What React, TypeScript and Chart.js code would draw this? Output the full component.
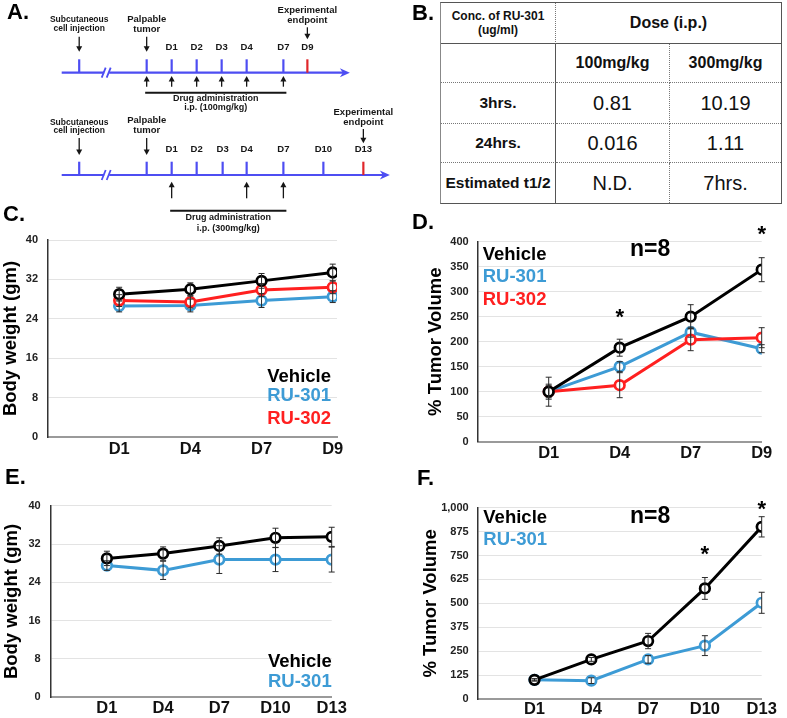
import React, { useEffect, useRef } from "react";
import { Chart, registerables } from "chart.js";

Chart.register(...registerables);

const FONT = '"Liberation Sans", Arial, Helvetica, sans-serif';
Chart.defaults.font.family = FONT;

// ---------------- Panel A (schedule diagram) ----------------
const injectionLabel = ["Subcutaneous", "cell injection"];
const tumorLabel = ["Palpable", "tumor"];
const endpointLabel = ["Experimental", "endpoint"];
const drugLabel = "Drug administration";
const schedule1Days = ["D1", "D2", "D3", "D4", "D7", "D9"];
const schedule1Slots = [1, 2, 3, 4, 5.47, 6.43];
const schedule1Doses = [0, 1, 2, 3, 4, 5.47];
const schedule1Route = "i.p. (100mg/kg)";
const schedule2Days = ["D1", "D2", "D3", "D4", "D7", "D10", "D13"];
const schedule2Slots = [1, 2, 3.04, 4, 5.47, 7.07, 8.67];
const schedule2Doses = [1, 4, 5.47];
const schedule2Route = "i.p. (300mg/kg)";
const injectionSlot = -2.7;
const tumorSlot = 0;
const breakSlot = -1.6;
const lineStartSlot = -3.4;
const schedule1EndSlot = 8.13;
const schedule2EndSlot = 9.73;

// ---------------- Panel B (table) ----------------
const tableCornerTitle = ["Conc. of RU-301", "(ug/ml)"];
const tableDoseTitle = "Dose (i.p.)";
const doseLabels = ["100mg/kg", "300mg/kg"];
const timeLabels = ["3hrs.", "24hrs.", "Estimated t1/2"];
const conc100 = ["0.81", "0.016", "N.D."];
const conc300 = ["10.19", "1.11", "7hrs."];

// ---------------- Panel C ----------------
const daysShort = ["D1", "D4", "D7", "D9"];
const weightVehicleC = [29.0, 30.0, 31.7, 33.4];
const weightVehicleCErr = [1.4, 1.3, 1.5, 1.7];
const weightRU301C = [26.6, 26.7, 27.7, 28.5];
const weightRU301CErr = [1.2, 1.3, 1.4, 1.2];
const weightRU302C = [27.7, 27.4, 29.85, 30.4];
const weightRU302CErr = [1.2, 1.2, 1.3, 1.3];

// ---------------- Panel D ----------------
const tumorVehicleD = [100, 188, 250, 344];
const tumorVehicleDErr = [29, 17, 24, 24];
const tumorRU301D = [100, 150, 219, 186];
const tumorRU301DErr = [15, 10, 10, 8];
const tumorRU302D = [100, 113, 204, 208];
const tumorRU302DErr = [12, 25, 22, 20];
const starCatsD = ["D4", "D9"];
const starValuesD = [260, 427];

// ---------------- Panel E ----------------
const daysLong = ["D1", "D4", "D7", "D10", "D13"];
const weightVehicleE = [29.0, 30.0, 31.6, 33.3, 33.5];
const weightVehicleEErr = [1.5, 1.4, 1.7, 2.0, 2.0];
const weightRU301E = [27.5, 26.5, 28.75, 28.75, 28.75];
const weightRU301EErr = [1.0, 1.9, 2.9, 2.5, 2.6];

// ---------------- Panel F ----------------
const tumorVehicleF = [100, 207, 303, 578, 900];
const tumorVehicleFErr = [5, 10, 40, 57, 53];
const tumorRU301F = [100, 96, 207, 279, 503];
const tumorRU301FErr = [6, 15, 20, 52, 55];
const starCatsF = ["D10", "D13"];
const starValuesF = [788, 1023];

const groupSize = "n=8";
const weightTitle = "Body weight (gm)";
const tumorTitle = "% Tumor Volume";

const BLACK = "#000000";
const BLUE = "#3d9bd5";
const RED = "#ff2020";
const TL_BLUE = "#4d4df2";
const TL_RED = "#e0262a";
const INK = "#161616";

// ======================================================================
// Panel A
// ======================================================================
const timelineLayouts = [
  {
    lineY: 72.7, tickTop: 59.3, dayY: 47.3,
    injText: [19.3, 28.3], tumText: [19, 29.3], downArrow: [36.7, 51.7],
    endText: [10, 20], endArrow: [27.3, 39.3],
    doseArrow: [86.7, 76], barY: 92.7, barText: [98.7, 107.3],
  },
  {
    lineY: 175, tickTop: 161.7, dayY: 149.3,
    injText: [122.7, 131], tumText: [120, 130.7], downArrow: [138, 155],
    endText: [112.3, 122.7], endArrow: [129, 143.3],
    doseArrow: [198.3, 181.7], barY: 210.7, barText: [217.7, 228.3],
  },
];

function drawArrow(ctx: CanvasRenderingContext2D, x: number, yFrom: number, yTo: number) {
  const dir = yTo > yFrom ? 1 : -1;
  ctx.beginPath();
  ctx.moveTo(x, yFrom);
  ctx.lineTo(x, yTo - dir * 4);
  ctx.stroke();
  ctx.beginPath();
  ctx.moveTo(x, yTo);
  ctx.lineTo(x - 3, yTo - dir * 5.5);
  ctx.lineTo(x + 3, yTo - dir * 5.5);
  ctx.closePath();
  ctx.fill();
}

function TimelinePanel() {
  const ref = useRef<HTMLCanvasElement>(null);
  useEffect(() => {
    const schedules = [
      { days: schedule1Days, slots: schedule1Slots, doses: schedule1Doses, route: schedule1Route, end: schedule1EndSlot },
      { days: schedule2Days, slots: schedule2Slots, doses: schedule2Doses, route: schedule2Route, end: schedule2EndSlot },
    ];
    const plugin = {
      id: "timeline",
      afterDraw(chart: any) {
        const ctx: CanvasRenderingContext2D = chart.ctx;
        const X = (v: number) => chart.scales.x.getPixelForValue(v);
        const Y = (v: number) => chart.scales.y.getPixelForValue(v);
        ctx.save();
        schedules.forEach((s, k) => {
          const L = timelineLayouts[k];
          const ly = Y(L.lineY);
          ctx.strokeStyle = TL_BLUE;
          ctx.fillStyle = TL_BLUE;
          ctx.lineWidth = 2.2;
          const tip = X(s.end);
          ctx.beginPath();
          ctx.moveTo(X(lineStartSlot), ly);
          ctx.lineTo(tip - 5, ly);
          ctx.stroke();
          ctx.beginPath();
          ctx.moveTo(tip, ly);
          ctx.lineTo(tip - 10, ly - 4.5);
          ctx.lineTo(tip - 7, ly);
          ctx.lineTo(tip - 10, ly + 4.5);
          ctx.closePath();
          ctx.fill();
          const bx = X(breakSlot);
          ctx.fillStyle = "#ffffff";
          ctx.fillRect(bx - 2.5, ly - 2, 5, 4);
          ctx.lineWidth = 1.8;
          ctx.beginPath();
          ctx.moveTo(bx - 5, ly + 5);
          ctx.lineTo(bx - 1, ly - 5);
          ctx.moveTo(bx, ly + 5);
          ctx.lineTo(bx + 4, ly - 5);
          ctx.stroke();
          ctx.lineWidth = 2.2;
          const tickSlots = [injectionSlot, tumorSlot, ...s.slots];
          tickSlots.forEach((sl, i) => {
            ctx.strokeStyle = i === tickSlots.length - 1 ? TL_RED : TL_BLUE;
            ctx.beginPath();
            ctx.moveTo(X(sl), Y(L.tickTop));
            ctx.lineTo(X(sl), ly);
            ctx.stroke();
          });
          ctx.fillStyle = INK;
          ctx.textAlign = "center";
          ctx.textBaseline = "middle";
          ctx.font = `bold 9.5px ${FONT}`;
          s.days.forEach((d, i) => ctx.fillText(d, X(s.slots[i]), Y(L.dayY)));
          ctx.font = `bold 8.5px ${FONT}`;
          injectionLabel.forEach((t, i) => ctx.fillText(t, X(injectionSlot), Y(L.injText[i])));
          ctx.font = `bold 9.5px ${FONT}`;
          tumorLabel.forEach((t, i) => ctx.fillText(t, X(tumorSlot), Y(L.tumText[i])));
          const endX = X(s.slots[s.slots.length - 1]);
          endpointLabel.forEach((t, i) => ctx.fillText(t, endX, Y(L.endText[i])));
          ctx.strokeStyle = INK;
          ctx.fillStyle = INK;
          ctx.lineWidth = 1.3;
          drawArrow(ctx, X(injectionSlot), Y(L.downArrow[0]), Y(L.downArrow[1]));
          drawArrow(ctx, X(tumorSlot), Y(L.downArrow[0]), Y(L.downArrow[1]));
          drawArrow(ctx, endX, Y(L.endArrow[0]), Y(L.endArrow[1]));
          s.doses.forEach((sl) => drawArrow(ctx, X(sl), Y(L.doseArrow[0]), Y(L.doseArrow[1])));
          const bx0 = X(s.doses[0]) - 1.5;
          const bx1 = X(s.doses[s.doses.length - 1]) + 3;
          ctx.lineWidth = 2;
          ctx.beginPath();
          ctx.moveTo(bx0, Y(L.barY));
          ctx.lineTo(bx1, Y(L.barY));
          ctx.stroke();
          ctx.font = `bold 9px ${FONT}`;
          const cx = (bx0 + bx1) / 2;
          ctx.fillText(drugLabel, cx, Y(L.barText[0]));
          ctx.fillText(s.route, cx, Y(L.barText[1]));
        });
        ctx.restore();
      },
    };
    const chart = new Chart(ref.current as HTMLCanvasElement, {
      type: "scatter",
      data: { datasets: [] },
      options: {
        animation: false,
        responsive: false,
        devicePixelRatio: 1,
        layout: { padding: { left: 61.7, right: 8.4, top: 0, bottom: 0 } },
        plugins: { legend: { display: false }, tooltip: { enabled: false } },
        scales: {
          x: { type: "linear", min: -3.4, max: 9.8, display: false },
          y: { type: "linear", min: 0, max: 236, reverse: true, display: false },
        },
      },
      plugins: [plugin],
    } as any);
    return () => chart.destroy();
  }, []);
  return <canvas ref={ref} width={400} height={236} style={{ position: "absolute", left: 0, top: 0 }} />;
}

// ======================================================================
// Panel B
// ======================================================================
function TablePanel() {
  const solid = "1px solid #555";
  const dotted = "1px dotted #777";
  const cell = (extra: React.CSSProperties): React.CSSProperties => ({
    display: "flex",
    alignItems: "center",
    justifyContent: "center",
    textAlign: "center",
    boxSizing: "border-box",
    color: "#111",
    ...extra,
  });
  const boldLabel: React.CSSProperties = { fontWeight: "bold", fontSize: 15.5 };
  const value: React.CSSProperties = { fontSize: 20 };
  return (
    <div
      style={{
        position: "absolute",
        left: 440,
        top: 2,
        width: 340,
        height: 200,
        border: solid,
        borderLeft: "1.5px solid #888",
        display: "grid",
        gridTemplateColumns: "115px 114px 111px",
        gridTemplateRows: "41px 39px 41px 39px 40px",
        fontFamily: FONT,
      }}
    >
      <div style={cell({ borderRight: dotted, borderBottom: solid, flexDirection: "column", fontWeight: "bold", fontSize: 12, lineHeight: "14px" })}>
        <div>{tableCornerTitle[0]}</div>
        <div>{tableCornerTitle[1]}</div>
      </div>
      <div style={cell({ gridColumn: "2 / 4", borderBottom: solid, fontWeight: "bold", fontSize: 16 })}>{tableDoseTitle}</div>
      <div style={cell({ borderRight: solid, borderBottom: dotted })}></div>
      <div style={cell({ borderRight: dotted, borderBottom: dotted, fontWeight: "bold", fontSize: 16 })}>{doseLabels[0]}</div>
      <div style={cell({ borderBottom: dotted, fontWeight: "bold", fontSize: 16 })}>{doseLabels[1]}</div>
      {timeLabels.map((t, i) => {
        const bottom = i < timeLabels.length - 1 ? dotted : "none";
        return (
          <React.Fragment key={t}>
            <div style={cell({ borderRight: solid, borderBottom: bottom, ...boldLabel })}>{t}</div>
            <div style={cell({ borderRight: dotted, borderBottom: bottom, ...value })}>{conc100[i]}</div>
            <div style={cell({ borderBottom: bottom, ...value })}>{conc300[i]}</div>
          </React.Fragment>
        );
      })}
    </div>
  );
}

// ======================================================================
// Panels C-F
// ======================================================================
type Series = { label: string; color: string; values: number[]; errors: number[]; layer: number };
type PanelSpec = {
  left: number; top: number; width: number; height: number;
  cats: string[]; series: Series[];
  yMax: number; yStep: number; xMax: number; yTitle: string;
  yAxisWidth: number; xAxisHeight: number; padTop: number; padRight: number;
  yTickPad: number; xTickPad: number;
  legendAlign: "left" | "right"; legendDx: number; legendFromBottom: boolean; legendOffsets: number[];
  note?: string; noteFx?: number; noteFy?: number;
  starCats?: string[]; starValues?: number[];
};

function LinePanel({ spec }: { spec: PanelSpec }) {
  const ref = useRef<HTMLCanvasElement>(null);
  useEffect(() => {
    const s = spec;
    const errorBars = {
      id: "errorBars",
      afterDatasetsDraw(chart: any) {
        const ctx: CanvasRenderingContext2D = chart.ctx;
        const xs = chart.scales.x;
        const ys = chart.scales.y;
        ctx.save();
        ctx.strokeStyle = "#2a2a2a";
        ctx.lineWidth = 1;
        chart.data.datasets.forEach((ds: any) => {
          ds.data.forEach((p: any, i: number) => {
            const e = ds.errors[i];
            const x = xs.getPixelForValue(p.x);
            const y0 = ys.getPixelForValue(p.y + e);
            const y1 = ys.getPixelForValue(p.y - e);
            ctx.beginPath();
            ctx.moveTo(x, y0);
            ctx.lineTo(x, y1);
            ctx.moveTo(x - 3, y0);
            ctx.lineTo(x + 3, y0);
            ctx.moveTo(x - 3, y1);
            ctx.lineTo(x + 3, y1);
            ctx.stroke();
          });
        });
        ctx.restore();
      },
    };
    const overlay = {
      id: "overlayText",
      afterDraw(chart: any) {
        const ctx: CanvasRenderingContext2D = chart.ctx;
        const a = chart.chartArea;
        ctx.save();
        ctx.font = `bold 18.5px ${FONT}`;
        ctx.textBaseline = "middle";
        ctx.textAlign = s.legendAlign;
        const lx = s.legendAlign === "left" ? a.left + s.legendDx : a.right + s.legendDx;
        s.series.forEach((ser, i) => {
          const y = s.legendFromBottom ? a.bottom - s.legendOffsets[i] : a.top + s.legendOffsets[i];
          ctx.fillStyle = ser.color;
          ctx.fillText(ser.label, lx, y);
        });
        if (s.note) {
          ctx.fillStyle = BLACK;
          ctx.textAlign = "center";
          ctx.font = `bold 23px ${FONT}`;
          ctx.fillText(s.note, a.left + (a.right - a.left) * (s.noteFx || 0), a.top + (a.bottom - a.top) * (s.noteFy || 0));
        }
        if (s.starCats && s.starValues) {
          ctx.fillStyle = BLACK;
          ctx.textAlign = "center";
          ctx.textBaseline = "alphabetic";
          ctx.font = `bold 22px ${FONT}`;
          s.starCats.forEach((c, i) => {
            const x = chart.scales.x.getPixelForValue(s.cats.indexOf(c) + 1);
            const y = chart.scales.y.getPixelForValue((s.starValues as number[])[i]);
            ctx.fillText("*", x, y + 12.5);
          });
        }
        ctx.restore();
      },
    };
    const chart = new Chart(ref.current as HTMLCanvasElement, {
      type: "line",
      data: {
        datasets: s.series.map((ser) => ({
          label: ser.label,
          data: ser.values.map((v, i) => ({ x: i + 1, y: v })),
          errors: ser.errors,
          borderColor: ser.color,
          backgroundColor: ser.color,
          pointBackgroundColor: "#ffffff",
          pointBorderColor: ser.color,
          pointRadius: 4.8,
          pointBorderWidth: 2.7,
          borderWidth: 3,
          tension: 0,
          order: ser.layer,
        })),
      },
      options: {
        animation: false,
        responsive: false,
        devicePixelRatio: 1,
        layout: { padding: { top: s.padTop, right: s.padRight, left: 0, bottom: 0 } },
        plugins: { legend: { display: false }, tooltip: { enabled: false }, title: { display: false } },
        scales: {
          x: {
            type: "linear",
            min: 0,
            max: s.xMax,
            afterBuildTicks: (axis: any) => {
              axis.ticks = s.cats.map((_, i) => ({ value: i + 1 }));
            },
            afterFit: (axis: any) => {
              axis.height = s.xAxisHeight;
            },
            grid: { display: false, drawTicks: false },
            border: { display: true, color: "#9a9a9a", width: 2 },
            ticks: {
              autoSkip: false,
              maxRotation: 0,
              padding: s.xTickPad,
              color: "#111",
              font: { size: 16.5, weight: "bold" },
              callback: (_v: any, i: number) => s.cats[i],
            },
          },
          y: {
            type: "linear",
            min: 0,
            max: s.yMax,
            afterFit: (axis: any) => {
              axis.width = s.yAxisWidth;
            },
            grid: { color: "#e3e3e3", lineWidth: 1, drawTicks: false },
            border: { display: true, color: "#333", width: 1.5 },
            ticks: { stepSize: s.yStep, padding: s.yTickPad, color: "#222", font: { size: 11, weight: "bold" } },
            title: {
              display: true,
              text: s.yTitle,
              color: BLACK,
              font: { size: 18.5, weight: "bold" },
              padding: { top: 0, bottom: 0 },
            },
          },
        },
      },
      plugins: [errorBars, overlay],
    } as any);
    return () => chart.destroy();
  }, []);
  return (
    <canvas
      ref={ref}
      width={spec.width}
      height={spec.height}
      style={{ position: "absolute", left: spec.left, top: spec.top }}
    />
  );
}

const specC: PanelSpec = {
  left: 0, top: 200, width: 352, height: 262,
  cats: daysShort,
  series: [
    { label: "Vehicle", color: BLACK, values: weightVehicleC, errors: weightVehicleCErr, layer: 0 },
    { label: "RU-301", color: BLUE, values: weightRU301C, errors: weightRU301CErr, layer: 2 },
    { label: "RU-302", color: RED, values: weightRU302C, errors: weightRU302CErr, layer: 1 },
  ],
  yMax: 40, yStep: 8, xMax: 4.06, yTitle: weightTitle,
  yAxisWidth: 48, xAxisHeight: 25, padTop: 40, padRight: 15,
  yTickPad: 10, xTickPad: 3,
  legendAlign: "right", legendDx: -6, legendFromBottom: true, legendOffsets: [60, 41, 18],
};

const specD: PanelSpec = {
  left: 425, top: 200, width: 362, height: 262,
  cats: daysShort,
  series: [
    { label: "Vehicle", color: BLACK, values: tumorVehicleD, errors: tumorVehicleDErr, layer: 0 },
    { label: "RU-301", color: BLUE, values: tumorRU301D, errors: tumorRU301DErr, layer: 2 },
    { label: "RU-302", color: RED, values: tumorRU302D, errors: tumorRU302DErr, layer: 1 },
  ],
  yMax: 400, yStep: 50, xMax: 4, yTitle: tumorTitle,
  yAxisWidth: 52.7, xAxisHeight: 20.3, padTop: 41.7, padRight: 25.3,
  yTickPad: 9, xTickPad: 1.5,
  legendAlign: "left", legendDx: 5, legendFromBottom: false, legendOffsets: [13.3, 35.3, 58.3],
  note: groupSize, noteFx: 0.607, noteFy: 0.042,
  starCats: starCatsD, starValues: starValuesD,
};

const specE: PanelSpec = {
  left: 1, top: 460, width: 351, height: 258,
  cats: daysLong,
  series: [
    { label: "Vehicle", color: BLACK, values: weightVehicleE, errors: weightVehicleEErr, layer: 0 },
    { label: "RU-301", color: BLUE, values: weightRU301E, errors: weightRU301EErr, layer: 1 },
  ],
  yMax: 40, yStep: 8, xMax: 5, yTitle: weightTitle,
  yAxisWidth: 49.7, xAxisHeight: 20.7, padTop: 45.7, padRight: 20.3,
  yTickPad: 10, xTickPad: 1.5,
  legendAlign: "right", legendDx: 0, legendFromBottom: true, legendOffsets: [35.6, 15.6],
};

const specF: PanelSpec = {
  left: 420, top: 460, width: 367, height: 258,
  cats: daysLong,
  series: [
    { label: "Vehicle", color: BLACK, values: tumorVehicleF, errors: tumorVehicleFErr, layer: 0 },
    { label: "RU-301", color: BLUE, values: tumorRU301F, errors: tumorRU301FErr, layer: 1 },
  ],
  yMax: 1000, yStep: 125, xMax: 5, yTitle: tumorTitle,
  yAxisWidth: 57.7, xAxisHeight: 19, padTop: 47.7, padRight: 25.3,
  yTickPad: 9, xTickPad: 0.5,
  legendAlign: "left", legendDx: 5.6, legendFromBottom: false, legendOffsets: [10, 32.3],
  note: groupSize, noteFx: 0.607, noteFy: 0.047,
  starCats: starCatsF, starValues: starValuesF,
};

const panelLetters = [
  { text: "A.", left: 7, top: 1.4 },
  { text: "B.", left: 412, top: 1.7 },
  { text: "C.", left: 3, top: 202.5 },
  { text: "D.", left: 412, top: 211 },
  { text: "E.", left: 5, top: 466 },
  { text: "F.", left: 417, top: 466.5 },
];

export default function App() {
  return (
    <div
      style={{
        position: "absolute",
        left: 0,
        top: 0,
        width: 787,
        height: 718,
        overflow: "hidden",
        background: "#ffffff",
        fontFamily: FONT,
      }}
    >
      <TimelinePanel />
      <TablePanel />
      <LinePanel spec={specC} />
      <LinePanel spec={specD} />
      <LinePanel spec={specE} />
      <LinePanel spec={specF} />
      {panelLetters.map((p) => (
        <div
          key={p.text}
          style={{
            position: "absolute",
            left: p.left,
            top: p.top,
            fontSize: 22,
            lineHeight: "22px",
            fontWeight: "bold",
            color: "#000",
          }}
        >
          {p.text}
        </div>
      ))}
    </div>
  );
}
